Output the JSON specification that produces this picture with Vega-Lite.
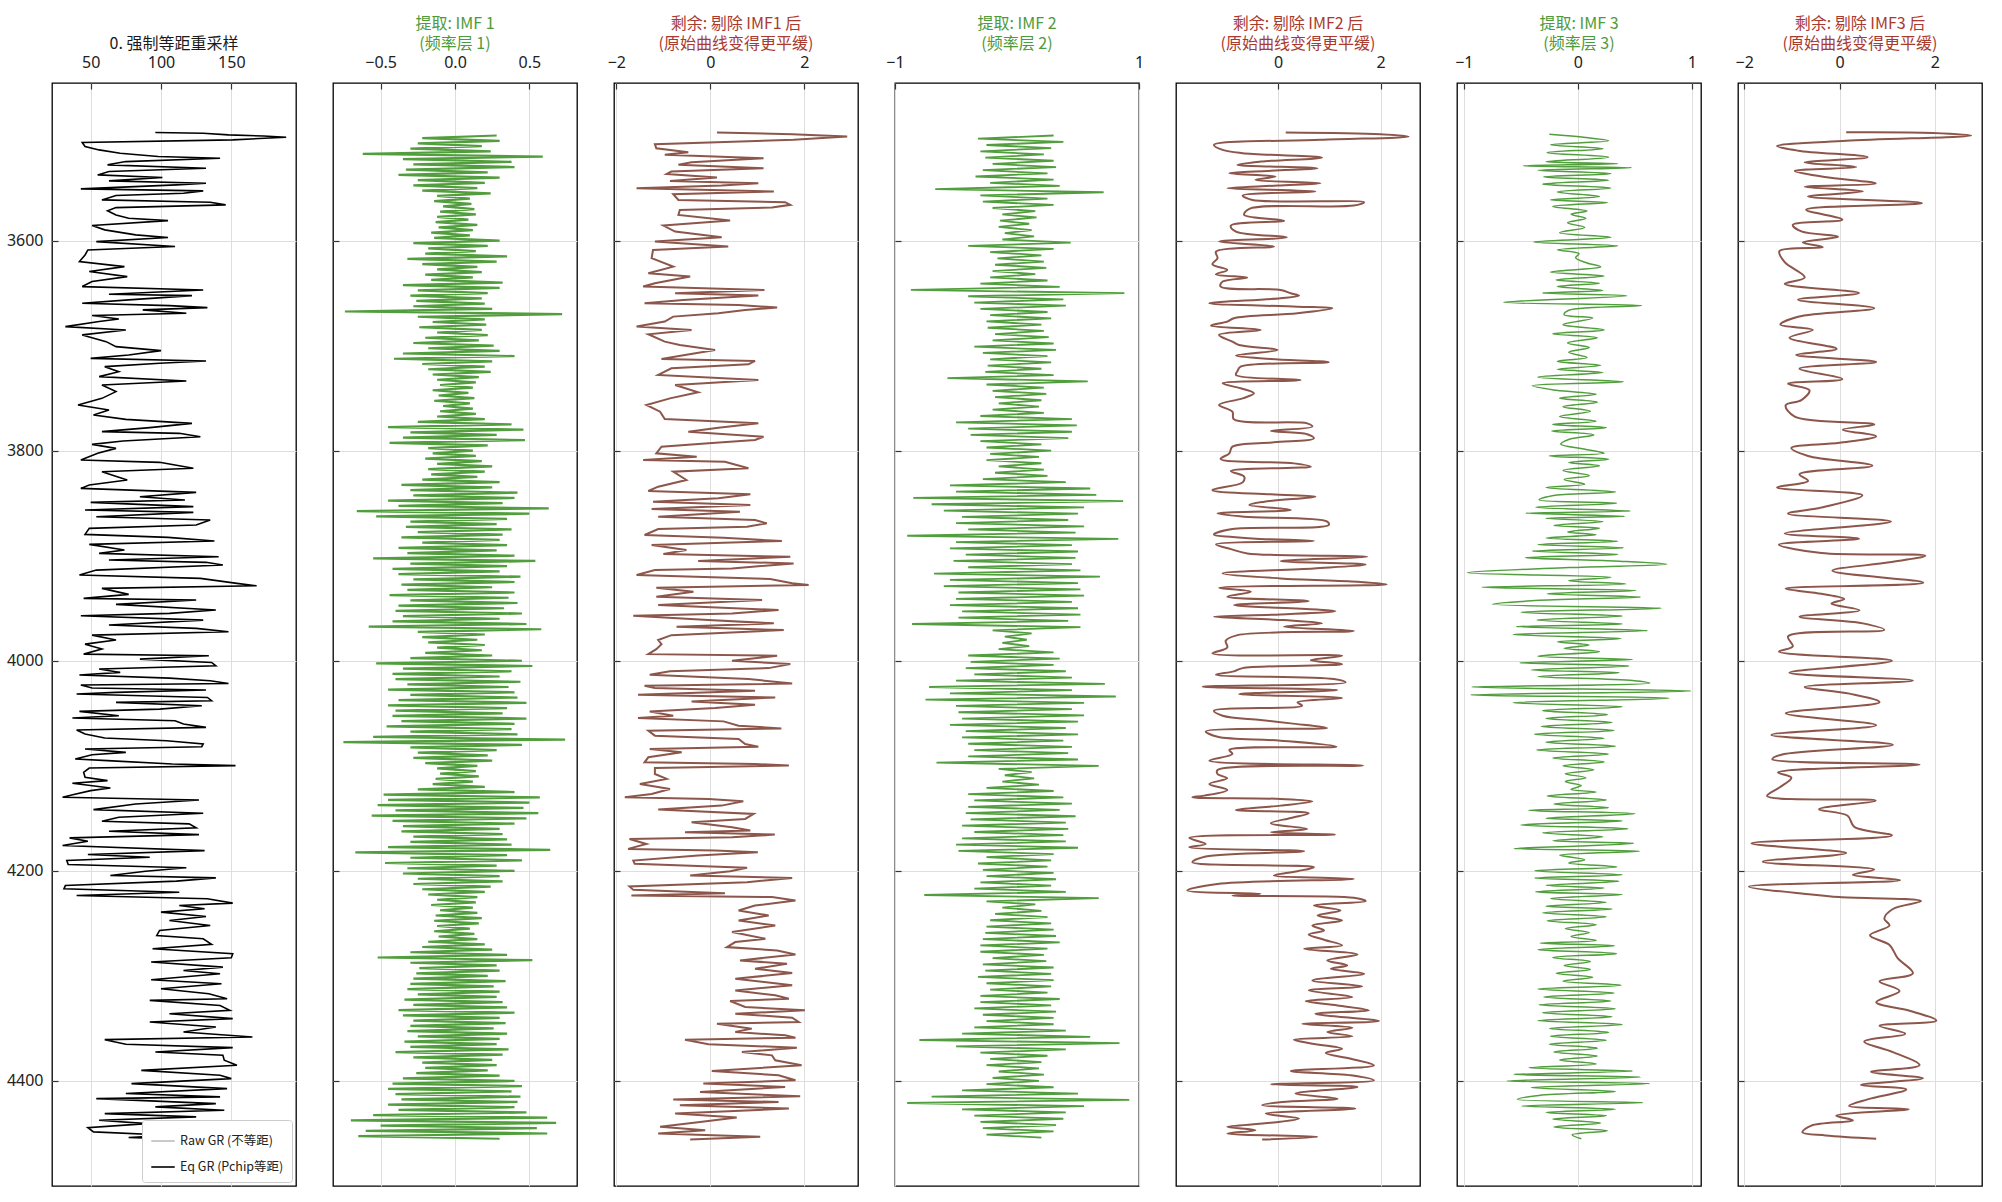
{
"$schema": "https://vega.github.io/schema/vega-lite/v6.json",
"background": "white",
"padding": {"left": 5, "top": 15, "right": 5, "bottom": 2},
"spacing": 37,
"bounds": "flush",
"resolve": {"scale": {"color": "independent"}, "legend": {"color": "independent"}},
"config": {
  "font": "Noto Sans",
  "view": {"stroke": "black", "strokeWidth": 1.3},
  "axis": {"labelFont": "Noto Sans", "labelFontSize": 16, "labelColor": "#222", "tickColor": "#333", "tickSize": -6, "tickWidth": 1.2, "domain": false, "gridColor": "#dedede", "gridWidth": 1, "title": null, "labelPadding": 19, "labelFlush": false, "labelOverlap": false, "labelBound": false},
  "title": {"font": "Noto Sans CJK SC", "fontSize": 16, "fontWeight": "normal", "lineHeight": 20, "offset": 2, "anchor": "middle"},
  "legend": {"labelFont": "Noto Sans CJK SC", "labelFontSize": 12.5, "labelColor": "#222", "fillColor": "white", "strokeColor": "#cccccc", "padding": 8, "cornerRadius": 3, "rowPadding": 6, "symbolType": "stroke", "symbolSize": 550, "symbolStrokeWidth": 1.6, "offset": 4}
},
"datasets": {
"gr": [
{"d":3497.1,"v":96},{"d":3497.8,"v":130},{"d":3499.4,"v":148},{"d":3500.5,"v":173},{"d":3501.6,"v":189},{"d":3504.1,"v":151},{"d":3506.7,"v":44},{"d":3510.5,"v":46},{"d":3513.7,"v":56},{"d":3516.8,"v":71},{"d":3520.0,"v":98},{"d":3521.6,"v":142},{"d":3524.8,"v":75},{"d":3527.9,"v":62},{"d":3531.1,"v":132},{"d":3534.3,"v":63},{"d":3537.5,"v":55},{"d":3540.0,"v":101},{"d":3543.2,"v":63},{"d":3545.4,"v":132},{"d":3547.0,"v":111},{"d":3550.8,"v":43},{"d":3552.7,"v":130},{"d":3554.9,"v":116},{"d":3557.1,"v":68},{"d":3561.3,"v":58},{"d":3563.5,"v":135},{"d":3566.0,"v":146},{"d":3568.6,"v":68},{"d":3571.7,"v":62},{"d":3575.6,"v":68},{"d":3578.7,"v":77},{"d":3581.0,"v":105},{"d":3585.7,"v":51},{"d":3589.8,"v":60},{"d":3594.6,"v":82},{"d":3597.1,"v":105},{"d":3601.0,"v":54},{"d":3605.7,"v":110},{"d":3608.9,"v":48},{"d":3613.7,"v":46},{"d":3620.0,"v":42},{"d":3624.8,"v":74},{"d":3629.5,"v":49},{"d":3634.3,"v":76},{"d":3639.0,"v":51},{"d":3643.8,"v":44},{"d":3647.0,"v":130},{"d":3651.1,"v":63},{"d":3652.4,"v":122},{"d":3656.5,"v":77},{"d":3659.7,"v":44},{"d":3661.9,"v":106},{"d":3663.8,"v":133},{"d":3666.0,"v":87},{"d":3669.2,"v":118},{"d":3671.4,"v":51},{"d":3674.6,"v":70},{"d":3677.1,"v":56},{"d":3681.9,"v":32},{"d":3685.1,"v":75},{"d":3689.8,"v":44},{"d":3696.2,"v":61},{"d":3701.0,"v":68},{"d":3704.8,"v":100},{"d":3708.9,"v":77},{"d":3712.1,"v":50},{"d":3714.6,"v":132},{"d":3716.8,"v":99},{"d":3720.0,"v":60},{"d":3724.8,"v":70},{"d":3729.5,"v":56},{"d":3733.7,"v":118},{"d":3737.5,"v":58},{"d":3743.8,"v":68},{"d":3750.2,"v":58},{"d":3756.5,"v":41},{"d":3761.3,"v":63},{"d":3766.0,"v":52},{"d":3770.2,"v":75},{"d":3774.0,"v":122},{"d":3778.1,"v":92},{"d":3781.9,"v":58},{"d":3783.5,"v":113},{"d":3786.7,"v":128},{"d":3790.8,"v":73},{"d":3794.0,"v":51},{"d":3797.8,"v":68},{"d":3802.5,"v":55},{"d":3808.9,"v":43},{"d":3811.1,"v":99},{"d":3816.8,"v":123},{"d":3820.0,"v":58},{"d":3827.9,"v":76},{"d":3832.7,"v":49},{"d":3835.9,"v":43},{"d":3839.7,"v":125},{"d":3843.8,"v":85},{"d":3847.0,"v":117},{"d":3849.2,"v":50},{"d":3853.3,"v":123},{"d":3856.5,"v":46},{"d":3858.7,"v":123},{"d":3862.9,"v":54},{"d":3866.0,"v":135},{"d":3870.8,"v":125},{"d":3874.0,"v":49},{"d":3879.7,"v":46},{"d":3882.5,"v":105},{"d":3886.0,"v":138},{"d":3889.2,"v":49},{"d":3894.6,"v":74},{"d":3897.8,"v":56},{"d":3901.0,"v":141},{"d":3904.1,"v":63},{"d":3906.3,"v":132},{"d":3908.9,"v":144},{"d":3913.7,"v":54},{"d":3918.4,"v":42},{"d":3921.6,"v":128},{"d":3926.3,"v":154},{"d":3928.6,"v":168},{"d":3931.1,"v":58},{"d":3936.8,"v":77},{"d":3940.6,"v":45},{"d":3942.2,"v":125},{"d":3946.3,"v":68},{"d":3951.7,"v":139},{"d":3954.9,"v":106},{"d":3957.1,"v":43},{"d":3961.3,"v":130},{"d":3966.0,"v":63},{"d":3969.2,"v":125},{"d":3972.4,"v":148},{"d":3975.6,"v":51},{"d":3980.3,"v":68},
{"d":3984.2,"v":46},{"d":3988.9,"v":58},{"d":3993.7,"v":45},{"d":3995.2,"v":134},{"d":3998.4,"v":85},{"d":4001.6,"v":136},{"d":4004.8,"v":139},{"d":4007.9,"v":56},{"d":4011.1,"v":71},{"d":4013.6,"v":42},{"d":4016.5,"v":106},{"d":4019.0,"v":135},{"d":4021.6,"v":148},{"d":4023.1,"v":43},{"d":4026.0,"v":51},{"d":4027.9,"v":132},{"d":4030.1,"v":68},{"d":4031.7,"v":40},{"d":4034.9,"v":133},{"d":4038.0,"v":136},{"d":4039.6,"v":68},{"d":4042.8,"v":129},{"d":4046.0,"v":99},{"d":4048.2,"v":42},{"d":4052.3,"v":70},{"d":4054.5,"v":37},{"d":4057.1,"v":110},{"d":4060.2,"v":116},{"d":4063.4,"v":132},{"d":4065.9,"v":40},{"d":4069.7,"v":46},{"d":4073.5,"v":60},{"d":4076.1,"v":104},{"d":4079.2,"v":130},{"d":4081.8,"v":129},{"d":4084.0,"v":46},{"d":4087.2,"v":75},{"d":4089.4,"v":51},{"d":4093.5,"v":39},{"d":4095.1,"v":62},{"d":4098.3,"v":108},{"d":4099.8,"v":153},{"d":4102.1,"v":49},{"d":4106.2,"v":45},{"d":4110.9,"v":46},{"d":4114.1,"v":62},{"d":4116.6,"v":37},{"d":4121.1,"v":64},{"d":4123.6,"v":50},{"d":4127.4,"v":38},{"d":4130.0,"v":30},{"d":4132.5,"v":127},{"d":4136.3,"v":82},{"d":4141.7,"v":52},{"d":4145.2,"v":130},{"d":4149.0,"v":70},{"d":4152.8,"v":58},{"d":4155.3,"v":120},{"d":4159.1,"v":125},{"d":4162.3,"v":63},{"d":4165.5,"v":127},{"d":4168.6,"v":35},{"d":4171.8,"v":48},{"d":4175.9,"v":30},{"d":4180.7,"v":131},{"d":4184.5,"v":48},{"d":4187.0,"v":92},{"d":4190.2,"v":33},{"d":4194.0,"v":34},{"d":4197.1,"v":118},{"d":4200.3,"v":89},{"d":4204.4,"v":64},{"d":4206.7,"v":139},{"d":4209.8,"v":111},{"d":4214.0,"v":32},{"d":4217.1,"v":31},{"d":4220.3,"v":113},{"d":4223.5,"v":40},{"d":4226.6,"v":133},{"d":4230.7,"v":151},{"d":4233.0,"v":113},{"d":4236.1,"v":131},{"d":4239.3,"v":100},{"d":4243.4,"v":132},{"d":4247.2,"v":106},{"d":4252.0,"v":135},{"d":4256.7,"v":99},{"d":4261.5,"v":97},{"d":4264.7,"v":130},{"d":4270.0,"v":136},{"d":4274.2,"v":94},{"d":4278.9,"v":151},{"d":4282.7,"v":150},{"d":4286.8,"v":93},{"d":4291.6,"v":144},{"d":4294.8,"v":116},{"d":4297.9,"v":142},{"d":4303.6,"v":93},{"d":4307.4,"v":143},{"d":4312.2,"v":100},{"d":4317.0,"v":134},{"d":4321.7,"v":147},{"d":4323.3,"v":92},{"d":4328.1,"v":142},{"d":4332.8,"v":149},{"d":4336.0,"v":106},{"d":4340.7,"v":151},{"d":4343.9,"v":92},{"d":4348.7,"v":139},{"d":4353.4,"v":116},{"d":4358.2,"v":165},{"d":4360.7,"v":60},{"d":4365.1,"v":75},{"d":4368.3,"v":151},{"d":4372.4,"v":96},{"d":4375.6,"v":144},{"d":4380.3,"v":145},{"d":4385.1,"v":154},{"d":4389.9,"v":86},{"d":4394.6,"v":142},{"d":4397.8,"v":150},{"d":4402.5,"v":79},{"d":4407.3,"v":147},{"d":4412.0,"v":75},{"d":4415.2,"v":142},{"d":4416.8,"v":54},{"d":4421.6,"v":139},{"d":4424.7,"v":96},{"d":4427.9,"v":145},{"d":4431.1,"v":60},{"d":4434.2,"v":125},{"d":4437.4,"v":56},{"d":4440.6,"v":90},{"d":4444.4,"v":48},{"d":4448.5,"v":52},{"d":4451.7,"v":106},{"d":4453.9,"v":77},{"d":4456.4,"v":137}
],
"imf1": [
{"d":3500,"v":0.28},{"d":3502.5,"v":-0.22},{"d":3505,"v":0.30},{"d":3507.5,"v":-0.25},{"d":3510,"v":0.18},{"d":3512.5,"v":-0.30},{"d":3515,"v":0.24},{"d":3517.5,"v":-0.62},{"d":3520,"v":0.59},{"d":3522.5,"v":-0.35},{"d":3525,"v":0.38},{"d":3527.5,"v":-0.28},{"d":3530,"v":0.40},{"d":3532.5,"v":-0.33},{"d":3535,"v":0.22},{"d":3537.5,"v":-0.38},{"d":3540,"v":0.30},{"d":3542.5,"v":-0.25},{"d":3545,"v":0.20},{"d":3547.5,"v":-0.28},{"d":3550,"v":0.15},{"d":3552.5,"v":-0.22},{"d":3555,"v":0.24},{"d":3557.5,"v":-0.12},{"d":3560,"v":0.10},{"d":3562.5,"v":-0.14},{"d":3565,"v":0.11},{"d":3567.5,"v":-0.08},{"d":3570,"v":0.13},{"d":3572.5,"v":-0.10},{"d":3575,"v":0.14},{"d":3577.5,"v":-0.12},{"d":3580,"v":0.09},{"d":3582.5,"v":-0.13},{"d":3585,"v":0.15},{"d":3587.5,"v":-0.11},{"d":3590,"v":0.12},{"d":3592.5,"v":-0.16},{"d":3595,"v":0.10},{"d":3597.5,"v":-0.14},
{"d":3600,"v":0.30},{"d":3602.5,"v":-0.28},{"d":3605,"v":0.22},{"d":3607.5,"v":-0.18},{"d":3610,"v":0.14},{"d":3612.5,"v":-0.20},{"d":3615,"v":0.35},{"d":3617.5,"v":-0.32},{"d":3620,"v":0.28},{"d":3622.5,"v":-0.22},{"d":3625,"v":0.15},{"d":3627.5,"v":-0.12},{"d":3630,"v":0.18},{"d":3632.5,"v":-0.20},{"d":3635,"v":0.12},{"d":3637.5,"v":-0.16},{"d":3640,"v":0.32},{"d":3642.5,"v":-0.35},{"d":3645,"v":0.30},{"d":3647.5,"v":-0.25},{"d":3650,"v":0.22},{"d":3652.5,"v":-0.30},{"d":3655,"v":0.18},{"d":3657.5,"v":-0.26},{"d":3660,"v":0.20},{"d":3662.5,"v":-0.28},{"d":3665,"v":0.25},{"d":3667.5,"v":-0.74},{"d":3670,"v":0.72},{"d":3672.5,"v":-0.25},{"d":3675,"v":0.20},{"d":3677.5,"v":-0.15},{"d":3680,"v":0.21},{"d":3682.5,"v":-0.24},{"d":3685,"v":0.18},{"d":3687.5,"v":-0.12},{"d":3690,"v":0.22},{"d":3692.5,"v":-0.20},{"d":3695,"v":0.16},{"d":3697.5,"v":-0.28},
{"d":3700,"v":0.26},{"d":3702.5,"v":-0.18},{"d":3705,"v":0.30},{"d":3707.5,"v":-0.35},{"d":3710,"v":0.40},{"d":3712.5,"v":-0.41},{"d":3715,"v":0.25},{"d":3717.5,"v":-0.22},{"d":3720,"v":0.20},{"d":3722.5,"v":-0.18},{"d":3725,"v":0.24},{"d":3727.5,"v":-0.15},{"d":3730,"v":0.16},{"d":3732.5,"v":-0.12},{"d":3735,"v":0.14},{"d":3737.5,"v":-0.10},{"d":3740,"v":0.12},{"d":3742.5,"v":-0.15},{"d":3745,"v":0.09},{"d":3747.5,"v":-0.11},{"d":3750,"v":0.13},{"d":3752.5,"v":-0.14},{"d":3755,"v":0.10},{"d":3757.5,"v":-0.08},{"d":3760,"v":0.12},{"d":3762.5,"v":-0.10},{"d":3765,"v":0.14},{"d":3767.5,"v":-0.12},{"d":3770,"v":0.20},{"d":3772.5,"v":-0.25},{"d":3775,"v":0.38},{"d":3777.5,"v":-0.45},{"d":3780,"v":0.46},{"d":3782.5,"v":-0.30},{"d":3785,"v":0.28},{"d":3787.5,"v":-0.35},{"d":3790,"v":0.47},{"d":3792.5,"v":-0.44},{"d":3795,"v":0.22},{"d":3797.5,"v":-0.18},
{"d":3800,"v":0.12},{"d":3802.5,"v":-0.15},{"d":3805,"v":0.14},{"d":3807.5,"v":-0.20},{"d":3810,"v":0.18},{"d":3812.5,"v":-0.12},{"d":3815,"v":0.25},{"d":3817.5,"v":-0.18},{"d":3820,"v":0.20},{"d":3822.5,"v":-0.16},{"d":3825,"v":0.15},{"d":3827.5,"v":-0.22},{"d":3830,"v":0.30},{"d":3832.5,"v":-0.36},{"d":3835,"v":0.25},{"d":3837.5,"v":-0.30},{"d":3840,"v":0.42},{"d":3842.5,"v":-0.28},{"d":3845,"v":0.40},{"d":3847.5,"v":-0.45},{"d":3850,"v":0.32},{"d":3852.5,"v":-0.38},{"d":3855,"v":0.63},{"d":3857.5,"v":-0.66},{"d":3860,"v":0.50},{"d":3862.5,"v":-0.53},{"d":3865,"v":0.35},{"d":3867.5,"v":-0.30},{"d":3870,"v":0.28},{"d":3872.5,"v":-0.33},{"d":3875,"v":0.38},{"d":3877.5,"v":-0.25},{"d":3880,"v":0.32},{"d":3882.5,"v":-0.36},{"d":3885,"v":0.30},{"d":3887.5,"v":-0.22},{"d":3890,"v":0.35},{"d":3892.5,"v":-0.38},{"d":3895,"v":0.28},{"d":3897.5,"v":-0.32},
{"d":3900,"v":0.40},{"d":3902.5,"v":-0.55},{"d":3905,"v":0.54},{"d":3907.5,"v":-0.30},{"d":3910,"v":0.35},{"d":3912.5,"v":-0.42},{"d":3915,"v":0.30},{"d":3917.5,"v":-0.38},{"d":3920,"v":0.44},{"d":3922.5,"v":-0.28},{"d":3925,"v":0.40},{"d":3927.5,"v":-0.36},{"d":3930,"v":0.25},{"d":3932.5,"v":-0.32},{"d":3935,"v":0.40},{"d":3937.5,"v":-0.44},{"d":3940,"v":0.36},{"d":3942.5,"v":-0.30},{"d":3945,"v":0.42},{"d":3947.5,"v":-0.38},{"d":3950,"v":0.33},{"d":3952.5,"v":-0.40},{"d":3955,"v":0.45},{"d":3957.5,"v":-0.35},{"d":3960,"v":0.30},{"d":3962.5,"v":-0.42},{"d":3965,"v":0.48},{"d":3967.5,"v":-0.58},{"d":3970,"v":0.58},{"d":3972.5,"v":-0.25},{"d":3975,"v":0.20},{"d":3977.5,"v":-0.22},{"d":3980,"v":0.15},{"d":3982.5,"v":-0.18},{"d":3985,"v":0.20},{"d":3987.5,"v":-0.12},{"d":3990,"v":0.18},{"d":3992.5,"v":-0.20},{"d":3995,"v":0.25},{"d":3997.5,"v":-0.30},
{"d":4000,"v":0.45},{"d":4002.5,"v":-0.53},{"d":4005,"v":0.52},{"d":4007.5,"v":-0.35},{"d":4010,"v":0.38},{"d":4012.5,"v":-0.42},{"d":4015,"v":0.30},{"d":4017.5,"v":-0.40},{"d":4020,"v":0.44},{"d":4022.5,"v":-0.32},{"d":4025,"v":0.36},{"d":4027.5,"v":-0.45},{"d":4030,"v":0.40},{"d":4032.5,"v":-0.30},{"d":4035,"v":0.42},{"d":4037.5,"v":-0.38},{"d":4040,"v":0.48},{"d":4042.5,"v":-0.45},{"d":4045,"v":0.35},{"d":4047.5,"v":-0.40},{"d":4050,"v":0.32},{"d":4052.5,"v":-0.42},{"d":4055,"v":0.48},{"d":4057.5,"v":-0.36},{"d":4060,"v":0.40},{"d":4062.5,"v":-0.46},{"d":4065,"v":0.38},{"d":4067.5,"v":-0.30},{"d":4070,"v":0.42},{"d":4072.5,"v":-0.55},{"d":4075,"v":0.74},{"d":4077.5,"v":-0.75},{"d":4080,"v":0.45},{"d":4082.5,"v":-0.30},{"d":4085,"v":0.28},{"d":4087.5,"v":-0.25},{"d":4090,"v":0.22},{"d":4092.5,"v":-0.28},{"d":4095,"v":0.25},{"d":4097.5,"v":-0.20},
{"d":4100,"v":0.15},{"d":4102.5,"v":-0.12},{"d":4105,"v":0.14},{"d":4107.5,"v":-0.10},{"d":4110,"v":0.16},{"d":4112.5,"v":-0.13},{"d":4115,"v":0.12},{"d":4117.5,"v":-0.15},{"d":4120,"v":0.20},{"d":4122.5,"v":-0.25},{"d":4125,"v":0.40},{"d":4127.5,"v":-0.48},{"d":4130,"v":0.57},{"d":4132.5,"v":-0.45},{"d":4135,"v":0.50},{"d":4137.5,"v":-0.52},{"d":4140,"v":0.46},{"d":4142.5,"v":-0.40},{"d":4145,"v":0.56},{"d":4147.5,"v":-0.56},{"d":4150,"v":0.48},{"d":4152.5,"v":-0.42},{"d":4155,"v":0.40},{"d":4157.5,"v":-0.35},{"d":4160,"v":0.30},{"d":4162.5,"v":-0.36},{"d":4165,"v":0.32},{"d":4167.5,"v":-0.28},{"d":4170,"v":0.35},{"d":4172.5,"v":-0.30},{"d":4175,"v":0.38},{"d":4177.5,"v":-0.45},{"d":4180,"v":0.64},{"d":4182.5,"v":-0.67},{"d":4185,"v":0.35},{"d":4187.5,"v":-0.30},{"d":4190,"v":0.45},{"d":4192.5,"v":-0.47},{"d":4195,"v":0.28},{"d":4197.5,"v":-0.32},
{"d":4200,"v":0.40},{"d":4202.5,"v":-0.35},{"d":4205,"v":0.30},{"d":4207.5,"v":-0.25},{"d":4210,"v":0.32},{"d":4212.5,"v":-0.28},{"d":4215,"v":0.24},{"d":4217.5,"v":-0.22},{"d":4220,"v":0.20},{"d":4222.5,"v":-0.18},{"d":4225,"v":0.15},{"d":4227.5,"v":-0.12},{"d":4230,"v":0.14},{"d":4232.5,"v":-0.16},{"d":4235,"v":0.12},{"d":4237.5,"v":-0.10},{"d":4240,"v":0.15},{"d":4242.5,"v":-0.13},{"d":4245,"v":0.18},{"d":4247.5,"v":-0.14},{"d":4250,"v":0.16},{"d":4252.5,"v":-0.12},{"d":4255,"v":0.10},{"d":4257.5,"v":-0.14},{"d":4260,"v":0.13},{"d":4262.5,"v":-0.11},{"d":4265,"v":0.15},{"d":4267.5,"v":-0.18},{"d":4270,"v":0.20},{"d":4272.5,"v":-0.22},{"d":4275,"v":0.25},{"d":4277.5,"v":-0.30},{"d":4280,"v":0.35},{"d":4282.5,"v":-0.52},{"d":4285,"v":0.52},{"d":4287.5,"v":-0.30},{"d":4290,"v":0.28},{"d":4292.5,"v":-0.24},{"d":4295,"v":0.30},{"d":4297.5,"v":-0.26},
{"d":4300,"v":0.22},{"d":4302.5,"v":-0.28},{"d":4305,"v":0.34},{"d":4307.5,"v":-0.30},{"d":4310,"v":0.26},{"d":4312.5,"v":-0.32},{"d":4315,"v":0.30},{"d":4317.5,"v":-0.25},{"d":4320,"v":0.28},{"d":4322.5,"v":-0.34},{"d":4325,"v":0.32},{"d":4327.5,"v":-0.28},{"d":4330,"v":0.35},{"d":4332.5,"v":-0.38},{"d":4335,"v":0.40},{"d":4337.5,"v":-0.35},{"d":4340,"v":0.30},{"d":4342.5,"v":-0.28},{"d":4345,"v":0.34},{"d":4347.5,"v":-0.30},{"d":4350,"v":0.26},{"d":4352.5,"v":-0.32},{"d":4355,"v":0.35},{"d":4357.5,"v":-0.25},{"d":4360,"v":0.30},{"d":4362.5,"v":-0.34},{"d":4365,"v":0.28},{"d":4367.5,"v":-0.30},{"d":4370,"v":0.36},{"d":4372.5,"v":-0.40},{"d":4375,"v":0.32},{"d":4377.5,"v":-0.28},{"d":4380,"v":0.25},{"d":4382.5,"v":-0.22},{"d":4385,"v":0.28},{"d":4387.5,"v":-0.20},{"d":4390,"v":0.22},{"d":4392.5,"v":-0.26},{"d":4395,"v":0.30},{"d":4397.5,"v":-0.35},
{"d":4400,"v":0.40},{"d":4402.5,"v":-0.42},{"d":4405,"v":0.45},{"d":4407.5,"v":-0.45},{"d":4410,"v":0.38},{"d":4412.5,"v":-0.40},{"d":4415,"v":0.44},{"d":4417.5,"v":-0.36},{"d":4420,"v":0.42},{"d":4422.5,"v":-0.45},{"d":4425,"v":0.40},{"d":4427.5,"v":-0.38},{"d":4430,"v":0.48},{"d":4432.5,"v":-0.55},{"d":4435,"v":0.62},{"d":4437.5,"v":-0.70},{"d":4440,"v":0.68},{"d":4442.5,"v":-0.50},{"d":4445,"v":0.55},{"d":4447.5,"v":-0.60},{"d":4450,"v":0.62},{"d":4452.5,"v":-0.65},{"d":4455,"v":0.30}
],
"r1": [
{"d":3497.1,"v":0.14},{"d":3498.7,"v":1.74},{"d":3501.0,"v":2.91},{"d":3504.1,"v":1.77},{"d":3508.3,"v":-1.18},{"d":3512.1,"v":-1.15},{"d":3515.9,"v":-0.47},{"d":3518.4,"v":-0.97},{"d":3521.6,"v":1.13},{"d":3525.4,"v":-0.40},{"d":3527.9,"v":-0.68},{"d":3531.1,"v":1.13},{"d":3534.3,"v":-0.83},{"d":3536.7,"v":-0.93},{"d":3540.0,"v":0.14},{"d":3543.2,"v":-0.86},{"d":3545.4,"v":1.02},{"d":3547.6,"v":0.24},{"d":3550.2,"v":-1.57},{"d":3553.3,"v":1.35},{"d":3555.9,"v":-0.79},{"d":3561.3,"v":-0.68},{"d":3563.5,"v":1.59},{"d":3566.0,"v":1.70},{"d":3568.6,"v":1.31},{"d":3570.8,"v":-0.65},{"d":3575.6,"v":-0.68},{"d":3581.0,"v":0.42},{"d":3585.7,"v":-1.0},{"d":3591.4,"v":-0.75},{"d":3596.8,"v":0.24},{"d":3601.0,"v":-1.18},{"d":3605.7,"v":0.38},{"d":3608.9,"v":-1.22},{"d":3616.8,"v":-1.25},{"d":3624.8,"v":-0.79},{"d":3631.1,"v":-1.32},{"d":3634.3,"v":-0.43},{"d":3640.6,"v":-1.18},{"d":3643.8,"v":-1.43},{"d":3647.0,"v":1.15},{"d":3650.2,"v":-0.75},{"d":3652.4,"v":1.02},{"d":3656.5,"v":-0.58},{"d":3659.7,"v":-1.40},{"d":3661.3,"v":0.60},{"d":3663.8,"v":1.42},{"d":3666.0,"v":0.74},{"d":3669.2,"v":0.17},{"d":3672.4,"v":-0.79},{"d":3677.1,"v":-0.97},{"d":3681.9,"v":-1.57},{"d":3685.1,"v":-0.40},{"d":3689.2,"v":-1.32},{"d":3696.2,"v":-0.97},{"d":3699.4,"v":-0.65},{"d":3704.1,"v":0.10},{"d":3708.9,"v":-0.54},{"d":3712.7,"v":-1.04},{"d":3714.6,"v":0.95},{"d":3717.8,"v":0.81},{"d":3721.6,"v":-0.83},{"d":3727.9,"v":-1.11},{"d":3732.7,"v":1.02},{"d":3737.5,"v":-0.75},{"d":3744.4,"v":-0.26},{"d":3750.2,"v":-0.86},{"d":3756.5,"v":-1.36},{"d":3762.9,"v":-1.07},{"d":3769.8,"v":-0.97},{"d":3774.0,"v":1.02},{"d":3778.1,"v":0.17},{"d":3781.9,"v":-0.47},{"d":3786.7,"v":1.13},{"d":3789.8,"v":0.95},{"d":3793.0,"v":-0.04},{"d":3796.2,"v":-1.04},{"d":3802.5,"v":-1.15},{"d":3805.7,"v":-0.29},{"d":3808.9,"v":-1.43},{"d":3810.5,"v":0.31},{"d":3816.8,"v":0.81},{"d":3820.0,"v":-0.79},{"d":3827.9,"v":-0.51},{"d":3834.3,"v":-1.11},{"d":3838.4,"v":-1.32},{"d":3841.6,"v":0.85},{"d":3845.4,"v":0.17},{"d":3848.6,"v":-1.22},{"d":3851.7,"v":0.85},{"d":3855.6,"v":-1.25},{"d":3858.1,"v":0.63},{"d":3862.9,"v":-1.11},{"d":3866.0,"v":0.95},{"d":3869.2,"v":1.20},{"d":3872.4,"v":0.78},{"d":3874.6,"v":-1.11},{"d":3880.3,"v":-1.40},{"d":3882.9,"v":0.28},{"d":3886.0,"v":1.52},{"d":3889.8,"v":-1.25},{"d":3894.6,"v":-0.51},{"d":3898.4,"v":-1.0},{"d":3901.0,"v":1.70},{"d":3905.1,"v":-0.26},{"d":3907.3,"v":1.77},{"d":3912.1,"v":0.46},{"d":3913.7,"v":-1.18},{"d":3918.4,"v":-1.57},{"d":3922.2,"v":1.27},{"d":3926.3,"v":1.74},{"d":3927.9,"v":2.09},{"d":3930.5,"v":-1.15},{"d":3934.3,"v":-0.36},{"d":3939.0,"v":-1.15},{"d":3942.2,"v":1.10},{"d":3946.9,"v":-1.11},{"d":3951.7,"v":1.45},{"d":3954.9,"v":0.46},{"d":3957.1,"v":-1.64},{"d":3961.3,"v":-0.04},{"d":3964.4,"v":1.35},{"d":3967.6,"v":-0.72},{"d":3970.8,"v":1.56},{"d":3975.6,"v":-0.83},{"d":3980.3,"v":-1.11},
{"d":3984.2,"v":-1.04},{"d":3988.9,"v":-1.15},{"d":3993.7,"v":-1.32},{"d":3995.2,"v":1.42},{"d":4000.0,"v":0.46},{"d":4003.2,"v":1.70},{"d":4007.0,"v":1.24},{"d":4010.1,"v":-0.86},{"d":4013.3,"v":-1.29},{"d":4017.4,"v":0.81},{"d":4021.6,"v":1.74},{"d":4023.8,"v":-1.40},{"d":4026.0,"v":-1.18},{"d":4028.5,"v":0.95},{"d":4032.3,"v":-1.54},{"d":4034.9,"v":1.38},{"d":4038.7,"v":-0.40},{"d":4041.8,"v":0.95},{"d":4045.0,"v":0.10},{"d":4048.2,"v":-1.29},{"d":4052.3,"v":-0.79},{"d":4054.5,"v":-1.54},{"d":4057.7,"v":0.28},{"d":4061.8,"v":0.60},{"d":4064.4,"v":1.51},{"d":4066.6,"v":-1.32},{"d":4071.3,"v":-1.18},{"d":4074.5,"v":0.60},{"d":4079.2,"v":0.74},{"d":4081.8,"v":1.02},{"d":4084.0,"v":-1.29},{"d":4087.2,"v":-0.61},{"d":4091.9,"v":-1.32},{"d":4096.7,"v":-1.40},{"d":4098.3,"v":0.95},{"d":4099.8,"v":1.67},{"d":4102.1,"v":-1.18},{"d":4107.8,"v":-1.18},{"d":4112.5,"v":-0.93},{"d":4117.3,"v":-1.50},{"d":4122.0,"v":-0.86},{"d":4126.8,"v":-1.25},{"d":4130.0,"v":-1.82},{"d":4131.5,"v":-0.04},{"d":4133.8,"v":0.70},{"d":4137.9,"v":0.24},{"d":4141.7,"v":-1.11},{"d":4145.8,"v":0.92},{"d":4150.6,"v":0.74},{"d":4153.7,"v":-0.40},{"d":4158.5,"v":0.46},{"d":4161.6,"v":0.85},{"d":4163.2,"v":-0.54},{"d":4165.5,"v":1.37},{"d":4168.0,"v":0.46},{"d":4169.6,"v":-1.72},{"d":4174.4,"v":-1.36},{"d":4179.1,"v":-1.75},{"d":4180.7,"v":0.10},{"d":4182.3,"v":1.01},{"d":4185.4,"v":-0.26},{"d":4190.2,"v":-1.64},{"d":4193.3,"v":-1.61},{"d":4197.1,"v":0.78},{"d":4200.3,"v":0.42},{"d":4204.4,"v":-0.43},{"d":4206.7,"v":1.74},{"d":4210.8,"v":0.78},{"d":4214.9,"v":-1.72},{"d":4218.1,"v":-1.64},{"d":4221.2,"v":0.31},{"d":4223.5,"v":-1.68},{"d":4225.0,"v":1.31},{"d":4228.2,"v":1.81},{"d":4233.0,"v":0.95},{"d":4237.7,"v":0.60},{"d":4242.5,"v":1.24},{"d":4247.2,"v":0.60},{"d":4252.0,"v":1.38},{"d":4258.3,"v":0.46},{"d":4264.7,"v":1.17},{"d":4267.8,"v":0.53},{"d":4272.6,"v":0.35},{"d":4275.8,"v":1.42},{"d":4279.6,"v":1.81},{"d":4285.3,"v":0.63},{"d":4288.4,"v":1.63},{"d":4293.2,"v":0.95},{"d":4297.3,"v":1.74},{"d":4302.7,"v":0.53},{"d":4309.0,"v":1.74},{"d":4313.8,"v":0.53},{"d":4318.5,"v":1.38},{"d":4321.7,"v":1.67},{"d":4323.9,"v":0.42},{"d":4329.6,"v":0.74},{"d":4332.8,"v":2.01},{"d":4336.0,"v":0.53},{"d":4339.8,"v":1.74},{"d":4343.9,"v":1.88},{"d":4345.5,"v":0.14},{"d":4350.2,"v":0.88},{"d":4353.4,"v":0.53},{"d":4356.6,"v":1.59},{"d":4358.8,"v":1.81},{"d":4360.7,"v":-0.54},{"d":4365.1,"v":-0.04},{"d":4368.3,"v":1.84},{"d":4372.4,"v":0.67},{"d":4375.6,"v":1.31},{"d":4380.3,"v":1.38},{"d":4385.1,"v":1.94},{"d":4390.5,"v":0.03},{"d":4394.6,"v":1.45},{"d":4399.4,"v":1.81},{"d":4402.5,"v":-0.15},{"d":4405.7,"v":1.59},{"d":4410.5,"v":-0.22},{"d":4414.6,"v":1.91},{"d":4417.7,"v":-0.79},{"d":4420.0,"v":1.45},{"d":4423.1,"v":-0.65},{"d":4426.3,"v":1.67},{"d":4431.1,"v":-0.75},{"d":4434.9,"v":0.56},{"d":4439.0,"v":-0.22},{"d":4443.7,"v":-1.07},{"d":4446.9,"v":-0.11},{"d":4450.1,"v":-1.11},{"d":4453.2,"v":1.06},{"d":4455.8,"v":-0.43}
],
"imf2": [
{"d":3500,"v":0.30},{"d":3503,"v":-0.32},{"d":3506,"v":0.38},{"d":3509,"v":-0.25},{"d":3512,"v":0.28},{"d":3515,"v":-0.30},{"d":3518,"v":0.22},{"d":3521,"v":-0.26},{"d":3524,"v":0.30},{"d":3527,"v":-0.20},{"d":3530,"v":0.32},{"d":3533,"v":-0.28},{"d":3536,"v":0.25},{"d":3539,"v":-0.34},{"d":3542,"v":0.30},{"d":3545,"v":-0.22},{"d":3548,"v":0.35},{"d":3551,"v":-0.67},{"d":3554,"v":0.71},{"d":3557,"v":-0.30},{"d":3560,"v":0.25},{"d":3563,"v":-0.28},{"d":3566,"v":0.30},{"d":3569,"v":-0.20},{"d":3572,"v":0.15},{"d":3575,"v":-0.12},{"d":3578,"v":0.16},{"d":3581,"v":-0.14},{"d":3584,"v":0.10},{"d":3587,"v":-0.15},{"d":3590,"v":0.12},{"d":3593,"v":-0.10},{"d":3596,"v":0.14},{"d":3599,"v":-0.12},{"d":3602,"v":0.44},{"d":3605,"v":-0.40},{"d":3608,"v":0.30},{"d":3611,"v":-0.22},{"d":3614,"v":0.20},{"d":3617,"v":-0.16},{"d":3620,"v":0.22},{"d":3623,"v":-0.18},{"d":3626,"v":0.24},{"d":3629,"v":-0.20},{"d":3632,"v":0.15},{"d":3635,"v":-0.22},{"d":3638,"v":0.25},{"d":3641,"v":-0.30},{"d":3644,"v":0.35},{"d":3647,"v":-0.87},{"d":3650,"v":0.88},{"d":3653,"v":-0.40},{"d":3656,"v":0.38},{"d":3659,"v":-0.35},{"d":3662,"v":0.40},{"d":3665,"v":-0.30},{"d":3668,"v":0.25},{"d":3671,"v":-0.22},{"d":3674,"v":0.28},{"d":3677,"v":-0.25},{"d":3680,"v":0.20},{"d":3683,"v":-0.24},{"d":3686,"v":0.22},{"d":3689,"v":-0.18},{"d":3692,"v":0.26},{"d":3695,"v":-0.20},{"d":3698,"v":0.30},{"d":3701,"v":-0.35},{"d":3704,"v":0.32},{"d":3707,"v":-0.28},{"d":3710,"v":0.25},{"d":3713,"v":-0.22},{"d":3716,"v":0.28},{"d":3719,"v":-0.24},{"d":3722,"v":0.20},{"d":3725,"v":-0.26},{"d":3728,"v":0.30},{"d":3731,"v":-0.57},{"d":3734,"v":0.58},{"d":3737,"v":-0.25},{"d":3740,"v":0.22},{"d":3743,"v":-0.20},{"d":3746,"v":0.24},{"d":3749,"v":-0.18},{"d":3752,"v":0.20},{"d":3755,"v":-0.15},{"d":3758,"v":0.18},{"d":3761,"v":-0.20},{"d":3764,"v":0.22},{"d":3767,"v":-0.30},{"d":3770,"v":0.45},{"d":3773,"v":-0.50},{"d":3776,"v":0.49},{"d":3779,"v":-0.40},{"d":3782,"v":0.45},{"d":3785,"v":-0.38},{"d":3788,"v":0.42},{"d":3791,"v":-0.30},{"d":3794,"v":0.20},{"d":3797,"v":-0.25},{"d":3800,"v":0.28},{"d":3803,"v":-0.22},{"d":3806,"v":0.18},{"d":3809,"v":-0.25},{"d":3812,"v":0.20},{"d":3815,"v":-0.15},{"d":3818,"v":0.22},{"d":3821,"v":-0.18},{"d":3824,"v":0.25},{"d":3827,"v":-0.28},{"d":3830,"v":0.40},{"d":3833,"v":-0.55},{"d":3836,"v":0.60},{"d":3839,"v":-0.50},{"d":3842,"v":0.65},{"d":3845,"v":-0.85},{"d":3848,"v":0.87},{"d":3851,"v":-0.70},{"d":3854,"v":0.55},{"d":3857,"v":-0.60},{"d":3860,"v":0.50},{"d":3863,"v":-0.45},{"d":3866,"v":0.42},{"d":3869,"v":-0.50},{"d":3872,"v":0.55},{"d":3875,"v":-0.40},{"d":3878,"v":0.48},{"d":3881,"v":-0.90},{"d":3884,"v":0.83},{"d":3887,"v":-0.50},{"d":3890,"v":0.45},{"d":3893,"v":-0.55},{"d":3896,"v":0.50},{"d":3899,"v":-0.42},{"d":3902,"v":0.48},{"d":3905,"v":-0.52},{"d":3908,"v":0.45},{"d":3911,"v":-0.40},{"d":3914,"v":0.52},{"d":3917,"v":-0.68},{"d":3920,"v":0.68},{"d":3923,"v":-0.55},{"d":3926,"v":0.50},{"d":3929,"v":-0.60},{"d":3932,"v":0.52},{"d":3935,"v":-0.48},{"d":3938,"v":0.55},{"d":3941,"v":-0.50},{"d":3944,"v":0.45},{"d":3947,"v":-0.55},{"d":3950,"v":0.50},{"d":3953,"v":-0.45},{"d":3956,"v":0.52},{"d":3959,"v":-0.48},{"d":3962,"v":0.42},{"d":3965,"v":-0.86},{"d":3968,"v":0.52},{"d":3971,"v":-0.20},{"d":3974,"v":0.12},{"d":3977,"v":-0.10},{"d":3980,"v":0.08},{"d":3983,"v":-0.12},{"d":3986,"v":0.10},{"d":3989,"v":-0.15},{"d":3992,"v":0.30},{"d":3995,"v":-0.40},{"d":3998,"v":0.35},{"d":4001,"v":-0.38},{"d":4004,"v":0.30},{"d":4007,"v":-0.42},{"d":4010,"v":0.40},{"d":4013,"v":-0.35},{"d":4016,"v":0.45},{"d":4019,"v":-0.50},{"d":4022,"v":0.72},{"d":4025,"v":-0.72},{"d":4028,"v":0.45},{"d":4031,"v":-0.55},{"d":4034,"v":0.81},{"d":4037,"v":-0.75},{"d":4040,"v":0.55},{"d":4043,"v":-0.50},{"d":4046,"v":0.45},{"d":4049,"v":-0.48},{"d":4052,"v":0.55},{"d":4055,"v":-0.45},{"d":4058,"v":0.50},{"d":4061,"v":-0.55},{"d":4064,"v":0.40},{"d":4067,"v":-0.42},{"d":4070,"v":0.50},{"d":4073,"v":-0.45},{"d":4076,"v":0.38},{"d":4079,"v":-0.40},{"d":4082,"v":0.45},{"d":4085,"v":-0.35},{"d":4088,"v":0.42},{"d":4091,"v":-0.40},{"d":4094,"v":0.50},{"d":4097,"v":-0.66},{"d":4100,"v":0.67},{"d":4103,"v":-0.15},{"d":4106,"v":0.12},{"d":4109,"v":-0.10},{"d":4112,"v":0.14},{"d":4115,"v":-0.12},{"d":4118,"v":0.18},{"d":4121,"v":-0.25},{"d":4124,"v":0.30},{"d":4127,"v":-0.40},{"d":4130,"v":0.38},{"d":4133,"v":-0.35},{"d":4136,"v":0.45},{"d":4139,"v":-0.40},{"d":4142,"v":0.35},{"d":4145,"v":-0.42},{"d":4148,"v":0.48},{"d":4151,"v":-0.38},{"d":4154,"v":0.40},{"d":4157,"v":-0.45},{"d":4160,"v":0.42},{"d":4163,"v":-0.35},{"d":4166,"v":0.38},{"d":4169,"v":-0.45},{"d":4172,"v":0.40},{"d":4175,"v":-0.50},{"d":4178,"v":0.50},{"d":4181,"v":-0.48},{"d":4184,"v":0.30},{"d":4187,"v":-0.25},{"d":4190,"v":0.28},{"d":4193,"v":-0.32},{"d":4196,"v":0.25},{"d":4199,"v":-0.28},{"d":4202,"v":0.30},{"d":4205,"v":-0.25},{"d":4208,"v":0.32},{"d":4211,"v":-0.30},{"d":4214,"v":0.28},{"d":4217,"v":-0.35},{"d":4220,"v":0.40},{"d":4223,"v":-0.76},{"d":4226,"v":0.67},{"d":4229,"v":-0.25},{"d":4232,"v":0.15},{"d":4235,"v":-0.12},{"d":4238,"v":0.20},{"d":4241,"v":-0.18},{"d":4244,"v":0.25},{"d":4247,"v":-0.22},{"d":4250,"v":0.28},{"d":4253,"v":-0.25},{"d":4256,"v":0.30},{"d":4259,"v":-0.26},{"d":4262,"v":0.32},{"d":4265,"v":-0.28},{"d":4268,"v":0.35},{"d":4271,"v":-0.30},{"d":4274,"v":0.25},{"d":4277,"v":-0.30},{"d":4280,"v":0.22},{"d":4283,"v":-0.20},{"d":4286,"v":0.24},{"d":4289,"v":-0.28},{"d":4292,"v":0.30},{"d":4295,"v":-0.26},{"d":4298,"v":0.28},{"d":4301,"v":-0.32},{"d":4304,"v":0.30},{"d":4307,"v":-0.25},{"d":4310,"v":0.28},{"d":4313,"v":-0.22},{"d":4316,"v":0.25},{"d":4319,"v":-0.30},{"d":4322,"v":0.35},{"d":4325,"v":-0.30},{"d":4328,"v":0.28},{"d":4331,"v":-0.35},{"d":4334,"v":0.32},{"d":4337,"v":-0.28},{"d":4340,"v":0.30},{"d":4343,"v":-0.25},{"d":4346,"v":0.30},{"d":4349,"v":-0.35},{"d":4352,"v":0.40},{"d":4355,"v":-0.45},{"d":4358,"v":0.60},{"d":4361,"v":-0.80},{"d":4364,"v":0.84},{"d":4367,"v":-0.50},{"d":4370,"v":0.40},{"d":4373,"v":-0.30},{"d":4376,"v":0.25},{"d":4379,"v":-0.22},{"d":4382,"v":0.20},{"d":4385,"v":-0.25},{"d":4388,"v":0.18},{"d":4391,"v":-0.15},{"d":4394,"v":0.22},{"d":4397,"v":-0.20},{"d":4400,"v":0.18},{"d":4403,"v":-0.25},{"d":4406,"v":0.30},{"d":4409,"v":-0.45},{"d":4412,"v":0.50},{"d":4415,"v":-0.70},{"d":4418,"v":0.92},{"d":4421,"v":-0.90},{"d":4424,"v":0.55},{"d":4427,"v":-0.45},{"d":4430,"v":0.40},{"d":4433,"v":-0.35},{"d":4436,"v":0.38},{"d":4439,"v":-0.30},{"d":4442,"v":0.32},{"d":4445,"v":-0.28},{"d":4448,"v":0.30},{"d":4451,"v":-0.25},{"d":4454,"v":0.20}
],
"r2": [
{"d":3497.1,"v":0.15},{"d":3498.7,"v":2.0},{"d":3501.0,"v":2.55},{"d":3504.1,"v":0.83},{"d":3508.9,"v":-1.25},{"d":3513.7,"v":-1.08},{"d":3516.8,"v":-0.69},{"d":3521.0,"v":0.86},{"d":3524.8,"v":-0.34},{"d":3527.9,"v":-0.79},{"d":3531.1,"v":0.77},{"d":3535.9,"v":-0.95},{"d":3539.0,"v":-0.05},{"d":3542.2,"v":-0.44},{"d":3545.4,"v":0.83},{"d":3547.6,"v":-0.01},{"d":3550.2,"v":-0.99},{"d":3553.3,"v":0.73},{"d":3557.1,"v":-0.69},{"d":3561.3,"v":-0.50},{"d":3563.5,"v":1.68},{"d":3566.7,"v":1.48},{"d":3569.8,"v":-0.56},{"d":3575.6,"v":-0.66},{"d":3581.0,"v":0.12},{"d":3585.7,"v":-0.92},{"d":3591.4,"v":-0.82},{"d":3596.8,"v":0.17},{"d":3601.0,"v":-1.15},{"d":3605.7,"v":-0.08},{"d":3610.5,"v":-1.21},{"d":3616.8,"v":-1.18},{"d":3622.5,"v":-1.28},{"d":3627.9,"v":-0.99},{"d":3632.1,"v":-1.21},{"d":3635.2,"v":-0.60},{"d":3639.0,"v":-1.08},{"d":3643.8,"v":-1.12},{"d":3647.0,"v":0.05},{"d":3650.2,"v":0.25},{"d":3652.4,"v":0.41},{"d":3654.9,"v":0.05},{"d":3659.7,"v":-1.34},{"d":3662.9,"v":0.38},{"d":3664.4,"v":1.06},{"d":3669.2,"v":0.38},{"d":3673.9,"v":-0.86},{"d":3677.1,"v":-0.99},{"d":3681.0,"v":-1.31},{"d":3685.1,"v":-0.34},{"d":3689.8,"v":-1.15},{"d":3696.2,"v":-0.89},{"d":3699.4,"v":-0.76},{"d":3704.1,"v":-0.01},{"d":3709.5,"v":-0.82},{"d":3712.7,"v":-0.14},{"d":3715.9,"v":0.99},{"d":3720.0,"v":-0.73},{"d":3724.1,"v":-0.79},{"d":3727.9,"v":-0.82},{"d":3732.7,"v":0.44},{"d":3735.9,"v":-1.08},{"d":3740.6,"v":-0.73},{"d":3745.4,"v":-0.47},{"d":3750.2,"v":-0.69},{"d":3756.5,"v":-1.15},{"d":3762.9,"v":-0.89},{"d":3770.2,"v":-0.86},{"d":3774.0,"v":0.57},{"d":3777.1,"v":0.67},{"d":3781.3,"v":-0.14},{"d":3784.4,"v":0.57},{"d":3788.3,"v":0.70},{"d":3792.1,"v":-0.08},{"d":3796.2,"v":-0.89},{"d":3802.5,"v":-0.95},{"d":3807.9,"v":-1.12},{"d":3812.1,"v":0.31},{"d":3815.2,"v":0.64},{"d":3819.4,"v":-0.92},{"d":3824.8,"v":-0.66},{"d":3830.2,"v":-0.69},{"d":3837.5,"v":-1.28},{"d":3841.6,"v":-0.14},{"d":3843.8,"v":0.73},{"d":3848.6,"v":-0.27},{"d":3851.7,"v":-0.56},{"d":3856.5,"v":0.25},{"d":3859.7,"v":-1.18},{"d":3862.9,"v":-0.66},{"d":3867.6,"v":0.96},{"d":3870.8,"v":0.99},{"d":3874.6,"v":-0.89},{"d":3879.7,"v":-1.25},{"d":3883.5,"v":-0.50},{"d":3886.0,"v":0.70},{"d":3889.2,"v":-1.21},{"d":3893.7,"v":-0.92},{"d":3897.8,"v":-0.60},{"d":3901.0,"v":1.74},{"d":3905.1,"v":0.05},{"d":3908.3,"v":1.71},{"d":3912.1,"v":0.70},{"d":3916.8,"v":-1.08},{"d":3921.6,"v":0.05},{"d":3924.8,"v":1.55},{"d":3927.3,"v":2.12},{"d":3930.5,"v":-1.15},{"d":3934.3,"v":-0.53},{"d":3939.0,"v":-0.99},{"d":3943.2,"v":0.60},{"d":3946.9,"v":-0.86},{"d":3952.7,"v":1.12},{"d":3955.9,"v":0.05},{"d":3958.1,"v":-1.25},{"d":3961.3,"v":0.12},{"d":3964.4,"v":0.86},{"d":3967.6,"v":0.12},{"d":3971.7,"v":1.48},{"d":3975.6,"v":-0.79},{"d":3981.0,"v":-1.02},{"d":3987.3,"v":-0.99},{"d":3993.0,"v":-1.28},{"d":3995.2,"v":1.25},{"d":3999.4,"v":0.64},{"d":4003.2,"v":1.25},{"d":4007.0,"v":-0.69},{"d":4010.1,"v":-0.86},{"d":4013.3,"v":-1.21},{"d":4017.4,"v":1.09},{"d":4020.6,"v":1.32},{"d":4024.7,"v":-1.47},{"d":4027.9,"v":1.16},{"d":4031.7,"v":-0.76},{"d":4035.5,"v":1.25},{"d":4039.6,"v":0.38},{"d":4042.8,"v":0.47},{"d":4047.5,"v":-1.25},{"d":4052.3,"v":-1.08},{"d":4056.4,"v":-0.34},{"d":4059.6,"v":0.25},{"d":4064.0,"v":0.96},{"d":4067.2,"v":-1.41},{"d":4072.3,"v":-1.18},{"d":4076.1,"v":0.05},{"d":4081.8,"v":1.14},{"d":4084.9,"v":-0.95},{"d":4088.7,"v":-0.89},{"d":4095.1,"v":-1.34},{"d":4099.8,"v":1.66},{"d":4104.0,"v":-1.18},{"d":4107.8,"v":-1.18},{"d":4111.9,"v":-0.99},{"d":4117.3,"v":-1.34},{"d":4123.0,"v":-0.99},{"d":4128.4,"v":-1.44},{"d":4130.0,"v":-1.67},{"d":4131.5,"v":0.05},{"d":4133.8,"v":0.67},{"d":4137.9,"v":0.05},{"d":4142.0,"v":-0.82},{"d":4145.2,"v":0.60},{"d":4149.6,"v":0.25},{"d":4154.7,"v":-0.14},{"d":4160.1,"v":0.57},{"d":4163.2,"v":-0.14},{"d":4165.5,"v":1.12},{"d":4168.6,"v":-1.73},{"d":4174.4,"v":-1.41},{"d":4177.5,"v":-1.73},{"d":4181.3,"v":0.51},{"d":4186.4,"v":-1.41},{"d":4191.8,"v":-1.67},{"d":4196.5,"v":0.70},{"d":4200.3,"v":0.38},{"d":4204.4,"v":-0.08},{"d":4207.6,"v":1.48},{"d":4212.4,"v":-1.18},{"d":4218.7,"v":-1.77},{"d":4221.9,"v":-0.34},{"d":4223.5,"v":-0.89},{"d":4225.7,"v":1.48},{"d":4228.8,"v":1.71},{"d":4233.0,"v":0.70},{"d":4237.7,"v":1.22},{"d":4242.5,"v":0.77},{"d":4247.2,"v":1.25},{"d":4252.0,"v":0.67},{"d":4256.7,"v":0.90},{"d":4260.5,"v":0.60},{"d":4265.6,"v":0.90},{"d":4271.0,"v":1.25},{"d":4274.2,"v":0.51},{"d":4279.6,"v":1.55},{"d":4285.3,"v":0.96},{"d":4290.0,"v":1.35},{"d":4293.2,"v":1.03},{"d":4297.9,"v":1.68},{"d":4304.3,"v":0.67},{"d":4310.0,"v":1.64},{"d":4313.8,"v":0.60},{"d":4320.1,"v":1.45},{"d":4323.9,"v":0.54},{"d":4328.1,"v":1.16},{"d":4332.8,"v":1.77},{"d":4336.0,"v":0.73},{"d":4343.0,"v":1.97},{"d":4345.5,"v":0.47},{"d":4349.3,"v":1.45},{"d":4353.4,"v":0.96},{"d":4357.5,"v":1.45},{"d":4360.7,"v":0.31},{"d":4364.5,"v":0.67},{"d":4369.3,"v":1.25},{"d":4373.4,"v":0.93},{"d":4378.8,"v":1.42},{"d":4385.1,"v":1.87},{"d":4390.5,"v":0.25},{"d":4394.6,"v":1.42},{"d":4399.4,"v":1.87},{"d":4403.2,"v":-0.14},{"d":4405.7,"v":1.55},{"d":4412.0,"v":0.34},{"d":4416.8,"v":1.16},{"d":4420.0,"v":0.08},{"d":4423.1,"v":-0.31},{"d":4426.3,"v":1.51},{"d":4431.1,"v":-0.24},{"d":4435.8,"v":0.41},{"d":4439.9,"v":-0.14},{"d":4443.7,"v":-0.99},{"d":4446.9,"v":-0.44},{"d":4450.1,"v":-0.99},{"d":4453.2,"v":0.77},{"d":4455.8,"v":-0.31}
],
"imf3": [
{"d":3498.8,"v":-0.25},{"d":3501.9,"v":0.07},{"d":3505.0,"v":0.27},{"d":3508.8,"v":-0.24},{"d":3512.5,"v":0.22},{"d":3516.3,"v":-0.27},{"d":3520.6,"v":0.27},{"d":3525.0,"v":-0.28},{"d":3526.9,"v":0.35},{"d":3528.8,"v":-0.48},{"d":3530.6,"v":0.47},{"d":3533.1,"v":-0.35},{"d":3536.3,"v":0.29},{"d":3539.4,"v":-0.30},{"d":3542.5,"v":0.27},{"d":3546.3,"v":-0.31},{"d":3550.0,"v":0.29},{"d":3553.8,"v":-0.18},{"d":3558.1,"v":0.19},{"d":3561.3,"v":-0.24},{"d":3563.8,"v":0.26},{"d":3567.5,"v":-0.22},{"d":3571.9,"v":0.08},{"d":3575.0,"v":-0.06},{"d":3578.8,"v":0.07},{"d":3583.1,"v":-0.09},{"d":3587.5,"v":0.06},{"d":3592.5,"v":-0.16},{"d":3596.9,"v":0.29},{"d":3601.3,"v":-0.39},{"d":3605.0,"v":0.35},{"d":3608.8,"v":-0.18},{"d":3612.5,"v":0.01},{"d":3616.3,"v":-0.02},{"d":3621.3,"v":0.08},{"d":3625.0,"v":0.20},{"d":3630.0,"v":-0.24},{"d":3633.8,"v":0.23},{"d":3637.5,"v":-0.19},{"d":3640.6,"v":0.19},{"d":3643.8,"v":-0.18},{"d":3647.5,"v":0.22},{"d":3650.0,"v":-0.31},{"d":3652.5,"v":0.43},{"d":3658.8,"v":-0.65},{"d":3661.9,"v":0.56},{"d":3666.3,"v":-0.08},{"d":3670.6,"v":-0.12},{"d":3673.8,"v":0.13},{"d":3680.0,"v":-0.13},{"d":3685.0,"v":0.23},{"d":3688.8,"v":-0.22},{"d":3692.5,"v":0.17},{"d":3697.5,"v":-0.09},{"d":3701.9,"v":0.10},{"d":3706.3,"v":-0.08},{"d":3711.3,"v":0.08},{"d":3715.0,"v":-0.18},{"d":3718.8,"v":0.20},{"d":3722.5,"v":-0.18},{"d":3725.6,"v":0.22},{"d":3730.0,"v":-0.35},{"d":3734.4,"v":0.40},{"d":3738.1,"v":-0.40},{"d":3742.5,"v":-0.19},{"d":3746.3,"v":0.16},{"d":3750.0,"v":-0.16},{"d":3753.8,"v":0.17},{"d":3758.1,"v":-0.13},{"d":3762.5,"v":0.11},{"d":3767.5,"v":-0.16},{"d":3771.9,"v":0.16},{"d":3775.0,"v":-0.22},{"d":3778.1,"v":0.25},{"d":3781.3,"v":-0.23},{"d":3785.0,"v":0.14},{"d":3789.4,"v":-0.08},{"d":3793.8,"v":-0.15},{"d":3798.8,"v":0.07},{"d":3802.5,"v":0.23},{"d":3805.0,"v":-0.25},{"d":3808.1,"v":0.27},{"d":3811.3,"v":-0.08},{"d":3814.4,"v":0.19},{"d":3818.8,"v":-0.13},{"d":3823.8,"v":0.10},{"d":3827.5,"v":-0.12},{"d":3831.9,"v":0.06},{"d":3835.0,"v":-0.28},{"d":3839.4,"v":0.33},{"d":3842.5,"v":-0.20},{"d":3846.9,"v":-0.34},{"d":3850.0,"v":0.34},{"d":3853.8,"v":-0.37},{"d":3857.5,"v":0.46},{"d":3859.4,"v":-0.46},{"d":3862.5,"v":0.41},{"d":3864.4,"v":-0.28},{"d":3867.5,"v":0.22},{"d":3871.3,"v":-0.21},{"d":3873.8,"v":0.19},{"d":3877.5,"v":-0.09},{"d":3880.0,"v":0.16},{"d":3883.1,"v":-0.28},{"d":3886.3,"v":0.35},{"d":3889.4,"v":-0.35},{"d":3892.5,"v":0.40},{"d":3895.6,"v":-0.40},{"d":3898.8,"v":0.35},{"d":3901.9,"v":-0.46},{"d":3905.0,"v":0.32},{"d":3908.1,"v":0.78},{"d":3911.3,"v":-0.08},{"d":3916.3,"v":-0.97},{"d":3920.6,"v":0.29},{"d":3923.8,"v":-0.08},{"d":3926.9,"v":0.42},{"d":3930.0,"v":-0.84},{"d":3933.1,"v":0.51},{"d":3936.3,"v":-0.27},{"d":3939.4,"v":0.55},{"d":3942.5,"v":-0.34},{"d":3946.3,"v":-0.75},{"d":3950.0,"v":0.73},{"d":3953.8,"v":-0.50},{"d":3957.5,"v":0.39},{"d":3961.3,"v":-0.36},{"d":3965.0,"v":0.39},{"d":3967.5,"v":-0.54},{"d":3971.3,"v":0.61},{"d":3975.0,"v":-0.57},{"d":3978.8,"v":0.38},{"d":3981.9,"v":-0.18},{"d":3985.0,"v":0.10},{"d":3988.1,"v":-0.12},{"d":3991.3,"v":0.19},{"d":3995.6,"v":-0.35},{"d":3998.8,"v":0.48},{"d":4001.9,"v":-0.51},{"d":4005.0,"v":0.45},{"d":4008.8,"v":-0.41},{"d":4011.3,"v":0.36},{"d":4015.0,"v":-0.35},{"d":4018.8,"v":0.48},{"d":4021.3,"v":0.63},{"d":4025.0,"v":-0.93},{"d":4028.8,"v":0.99},{"d":4032.5,"v":-0.94},{"d":4035.6,"v":0.80},{"d":4040.0,"v":-0.57},{"d":4043.8,"v":0.39},{"d":4047.5,"v":-0.31},{"d":4051.3,"v":0.26},{"d":4055.0,"v":-0.28},{"d":4058.8,"v":0.30},{"d":4062.5,"v":-0.32},{"d":4066.3,"v":0.32},{"d":4070.0,"v":-0.38},{"d":4073.8,"v":0.23},{"d":4077.5,"v":-0.28},{"d":4081.3,"v":0.33},{"d":4085.0,"v":-0.36},{"d":4088.8,"v":0.27},{"d":4092.5,"v":-0.22},{"d":4096.3,"v":0.23},{"d":4100.0,"v":-0.13},{"d":4103.8,"v":0.14},{"d":4107.5,"v":-0.11},{"d":4111.3,"v":0.07},{"d":4115.0,"v":-0.11},{"d":4118.8,"v":0.03},{"d":4122.5,"v":-0.06},{"d":4125.0,"v":0.16},{"d":4128.8,"v":-0.27},{"d":4132.5,"v":0.25},{"d":4136.3,"v":-0.21},{"d":4140.0,"v":0.27},{"d":4142.5,"v":-0.43},{"d":4145.6,"v":0.50},{"d":4150.0,"v":-0.28},{"d":4152.5,"v":0.39},{"d":4156.3,"v":-0.50},{"d":4160.0,"v":0.44},{"d":4163.8,"v":-0.31},{"d":4167.5,"v":0.22},{"d":4171.3,"v":-0.22},{"d":4173.8,"v":0.49},{"d":4176.3,"v":0.01},{"d":4178.8,"v":-0.56},{"d":4181.3,"v":0.54},{"d":4185.0,"v":-0.16},{"d":4189.4,"v":0.06},{"d":4192.5,"v":-0.08},{"d":4196.3,"v":0.34},{"d":4200.0,"v":-0.38},{"d":4203.8,"v":0.39},{"d":4206.9,"v":-0.38},{"d":4210.0,"v":0.36},{"d":4213.8,"v":-0.28},{"d":4216.3,"v":0.23},{"d":4220.0,"v":-0.37},{"d":4222.5,"v":0.39},{"d":4226.3,"v":-0.24},{"d":4230.0,"v":0.25},{"d":4233.8,"v":-0.28},{"d":4236.3,"v":0.30},{"d":4240.0,"v":-0.31},{"d":4243.8,"v":0.25},{"d":4247.5,"v":-0.27},{"d":4251.3,"v":0.16},{"d":4255.0,"v":-0.11},{"d":4258.8,"v":0.10},{"d":4262.5,"v":-0.06},{"d":4266.3,"v":0.16},{"d":4268.8,"v":-0.33},{"d":4271.3,"v":0.32},{"d":4275.0,"v":-0.35},{"d":4278.8,"v":0.34},{"d":4282.5,"v":-0.22},{"d":4286.3,"v":0.11},{"d":4290.0,"v":-0.12},{"d":4293.8,"v":0.11},{"d":4297.5,"v":-0.19},{"d":4301.3,"v":0.13},{"d":4305.0,"v":-0.13},{"d":4308.8,"v":0.38},{"d":4312.5,"v":-0.35},{"d":4316.3,"v":0.32},{"d":4320.0,"v":-0.30},{"d":4323.8,"v":0.29},{"d":4327.5,"v":-0.34},{"d":4331.3,"v":0.33},{"d":4335.0,"v":-0.31},{"d":4338.8,"v":0.30},{"d":4342.5,"v":-0.35},{"d":4346.3,"v":0.39},{"d":4350.0,"v":-0.25},{"d":4353.8,"v":0.27},{"d":4357.5,"v":-0.24},{"d":4361.3,"v":0.25},{"d":4365.0,"v":-0.25},{"d":4368.8,"v":0.17},{"d":4372.5,"v":-0.21},{"d":4376.3,"v":0.17},{"d":4380.0,"v":-0.16},{"d":4383.8,"v":0.16},{"d":4387.5,"v":-0.43},{"d":4390.6,"v":0.48},{"d":4393.8,"v":-0.56},{"d":4396.3,"v":0.55},{"d":4400.0,"v":-0.62},{"d":4402.5,"v":0.63},{"d":4406.3,"v":-0.41},{"d":4410.0,"v":0.33},{"d":4413.8,"v":-0.34},{"d":4417.5,"v":-0.53},{"d":4420.6,"v":0.57},{"d":4423.8,"v":-0.49},{"d":4426.9,"v":0.33},{"d":4430.0,"v":-0.28},{"d":4433.1,"v":0.25},{"d":4436.3,"v":-0.22},{"d":4440.0,"v":0.20},{"d":4443.8,"v":-0.21},{"d":4447.5,"v":0.26},{"d":4451.3,"v":-0.05},{"d":4455.0,"v":0.03}
],
"r3": [
{"d":3496.9,"v":0.14},{"d":3497.5,"v":1.96},{"d":3500.0,"v":2.76},{"d":3505.0,"v":0.14},{"d":3510.0,"v":-1.31},{"d":3514.4,"v":-0.87},{"d":3520.6,"v":0.59},{"d":3525.6,"v":-0.73},{"d":3530.0,"v":0.35},{"d":3533.8,"v":-0.94},{"d":3539.4,"v":-0.31},{"d":3545.6,"v":0.76},{"d":3548.8,"v":-0.73},{"d":3553.1,"v":0.49},{"d":3558.1,"v":-0.66},{"d":3564.4,"v":1.73},{"d":3570.6,"v":-0.70},{"d":3580.0,"v":0.06},{"d":3585.0,"v":-0.98},{"d":3591.3,"v":-0.80},{"d":3596.3,"v":-0.03},{"d":3601.9,"v":-0.77},{"d":3606.3,"v":-0.35},{"d":3610.0,"v":-1.26},{"d":3620.6,"v":-1.15},{"d":3635.0,"v":-0.73},{"d":3641.3,"v":-1.15},{"d":3650.0,"v":0.41},{"d":3656.3,"v":-0.87},{"d":3664.4,"v":0.73},{"d":3672.5,"v":-0.87},{"d":3680.0,"v":-1.24},{"d":3685.0,"v":-0.56},{"d":3692.5,"v":-1.05},{"d":3703.1,"v":-0.06},{"d":3708.8,"v":-0.91},{"d":3715.6,"v":0.77},{"d":3721.9,"v":-0.84},{"d":3731.9,"v":0.06},{"d":3736.3,"v":-1.08},{"d":3742.5,"v":-0.63},{"d":3751.9,"v":-0.80},{"d":3756.9,"v":-1.13},{"d":3767.5,"v":-0.94},{"d":3775.0,"v":0.73},{"d":3780.0,"v":0.07},{"d":3786.3,"v":0.77},{"d":3792.5,"v":0.0},{"d":3797.5,"v":-1.01},{"d":3805.0,"v":-0.66},{"d":3814.4,"v":0.69},{"d":3822.5,"v":-0.84},{"d":3828.8,"v":-0.66},{"d":3835.0,"v":-1.31},{"d":3842.5,"v":0.48},{"d":3853.8,"v":-0.35},{"d":3860.0,"v":-1.08},{"d":3867.5,"v":1.08},{"d":3878.8,"v":-1.15},{"d":3883.8,"v":0.41},{"d":3889.4,"v":-1.27},{"d":3897.5,"v":-0.38},{"d":3900.0,"v":1.80},{"d":3906.3,"v":1.05},{"d":3914.4,"v":-0.15},{"d":3925.6,"v":1.76},{"d":3931.3,"v":-1.13},{"d":3936.3,"v":-0.38},{"d":3941.3,"v":0.10},{"d":3945.6,"v":-0.17},{"d":3951.9,"v":0.42},{"d":3958.1,"v":-0.84},{"d":3964.4,"v":0.49},{"d":3970.6,"v":0.94},{"d":3976.9,"v":-1.08},{"d":3986.3,"v":-0.98},{"d":3991.3,"v":-1.27},{"d":4000.0,"v":1.10},{"d":4011.3,"v":-1.05},{"d":4018.8,"v":1.54},{"d":4025.0,"v":-0.73},{"d":4031.3,"v":0.21},{"d":4039.4,"v":0.84},{"d":4050.0,"v":-1.13},{"d":4061.3,"v":0.77},{"d":4070.6,"v":-1.43},{"d":4080.0,"v":1.12},{"d":4089.4,"v":-1.22},{"d":4093.8,"v":-1.41},{"d":4098.8,"v":1.68},{"d":4106.3,"v":-1.29},{"d":4111.3,"v":-1.01},{"d":4120.6,"v":-1.26},{"d":4128.8,"v":-1.52},{"d":4133.1,"v":0.76},{"d":4141.3,"v":-0.43},{"d":4147.5,"v":0.17},{"d":4158.1,"v":0.31},{"d":4166.3,"v":1.10},{"d":4173.8,"v":-1.85},{"d":4183.1,"v":0.14},{"d":4191.3,"v":-1.61},{"d":4198.8,"v":0.73},{"d":4203.8,"v":0.28},{"d":4208.8,"v":1.27},{"d":4215.0,"v":-1.90},{"d":4222.5,"v":-0.59},{"d":4225.0,"v":0.0},{"d":4228.8,"v":1.71},{"d":4236.3,"v":1.12},{"d":4245.6,"v":0.94},{"d":4251.9,"v":1.05},{"d":4261.3,"v":0.64},{"d":4270.6,"v":1.05},{"d":4283.1,"v":1.22},{"d":4297.5,"v":1.54},{"d":4305.0,"v":0.84},{"d":4314.4,"v":1.26},{"d":4325.0,"v":0.77},{"d":4333.1,"v":1.47},{"d":4342.5,"v":2.03},{"d":4347.5,"v":0.84},{"d":4355.0,"v":1.38},{"d":4362.5,"v":0.52},{"d":4372.5,"v":1.12},{"d":4385.0,"v":1.68},{"d":4391.3,"v":0.66},{"d":4397.5,"v":1.75},{"d":4403.8,"v":0.45},{"d":4408.1,"v":1.40},{"d":4417.5,"v":0.59},{"d":4423.8,"v":0.20},{"d":4426.9,"v":1.45},{"d":4433.1,"v":-0.07},{"d":4437.5,"v":0.28},{"d":4442.5,"v":-0.59},{"d":4448.8,"v":-0.78},{"d":4451.9,"v":-0.29},{"d":4455.0,"v":0.77}
]
},
"hconcat": [
{
  "width": 244, "height": 1103,
  "title": {"text": "0. 强制等距重采样", "color": "#1a1a1a"},
  "layer": [
    {"data": {"name": "gr"}, "mark": {"type": "line", "strokeWidth": 1.6, "clip": true},
     "encoding": {
       "x": {"field": "v", "type": "quantitative", "scale": {"domain": [22.5, 196], "nice": false, "zero": false}, "axis": {"orient": "top", "values": [50, 100, 150], "format": "d", "grid": true}},
       "y": {"field": "d", "type": "quantitative", "scale": {"domain": [3450, 4500], "reverse": true, "nice": false, "zero": false}, "axis": {"values": [3600, 3800, 4000, 4200, 4400], "format": "d", "grid": true, "labelPadding": 15}},
       "order": {"field": "d", "type": "quantitative"},
       "color": {"datum": "Eq GR (Pchip等距)", "type": "nominal", "scale": {"domain": ["Raw GR (不等距)", "Eq GR (Pchip等距)"], "range": ["#bdbdbd", "#000000"]}, "legend": {"title": null, "orient": "bottom-right"}}
     }}
  ]
},
{
  "width": 244, "height": 1103,
  "title": {"text": ["提取: IMF 1", "(频率层 1)"], "color": "#4e9a3a"},
  "layer": [
    {"data": {"name": "imf1"}, "mark": {"type": "line", "strokeWidth": 2.2, "color": "#529e3e", "clip": true},
     "encoding": {
       "x": {"field": "v", "type": "quantitative", "scale": {"domain": [-0.82, 0.82], "nice": false, "zero": false}, "axis": {"orient": "top", "values": [-0.5, 0, 0.5], "format": ".1f", "grid": true}},
       "y": {"field": "d", "type": "quantitative", "scale": {"domain": [3450, 4500], "reverse": true, "nice": false, "zero": false}, "axis": {"values": [3600, 3800, 4000, 4200, 4400], "labels": false, "grid": true}},
       "order": {"field": "d", "type": "quantitative"}
     }},
    {"mark": {"type": "rule", "color": "#9a9a9a", "strokeDash": [7, 4], "strokeWidth": 1.6, "opacity": 0.75}, "encoding": {"x": {"datum": 0}}}
  ]
},
{
  "width": 244, "height": 1103,
  "title": {"text": ["剩余: 剔除 IMF1 后", "(原始曲线变得更平缓)"], "color": "#a83a30"},
  "layer": [
    {"data": {"name": "r1"}, "mark": {"type": "line", "strokeWidth": 2, "color": "#8c564b", "clip": true},
     "encoding": {
       "x": {"field": "v", "type": "quantitative", "scale": {"domain": [-2.05, 3.14], "nice": false, "zero": false}, "axis": {"orient": "top", "values": [-2, 0, 2], "format": "d", "grid": true}},
       "y": {"field": "d", "type": "quantitative", "scale": {"domain": [3450, 4500], "reverse": true, "nice": false, "zero": false}, "axis": {"values": [3600, 3800, 4000, 4200, 4400], "labels": false, "grid": true}},
       "order": {"field": "d", "type": "quantitative"}
     }}
  ]
},
{
  "width": 244, "height": 1103,
  "title": {"text": ["提取: IMF 2", "(频率层 2)"], "color": "#4e9a3a"},
  "layer": [
    {"data": {"name": "imf2"}, "mark": {"type": "line", "strokeWidth": 1.8, "color": "#529e3e", "clip": true},
     "encoding": {
       "x": {"field": "v", "type": "quantitative", "scale": {"domain": [-1, 1], "nice": false, "zero": false}, "axis": {"orient": "top", "values": [-1, 0, 1], "format": "d", "grid": true}},
       "y": {"field": "d", "type": "quantitative", "scale": {"domain": [3450, 4500], "reverse": true, "nice": false, "zero": false}, "axis": {"values": [3600, 3800, 4000, 4200, 4400], "labels": false, "grid": true}},
       "order": {"field": "d", "type": "quantitative"}
     }},
    {"mark": {"type": "rule", "color": "#9a9a9a", "strokeDash": [7, 4], "strokeWidth": 1.6, "opacity": 0.75}, "encoding": {"x": {"datum": 0}}}
  ]
},
{
  "width": 244, "height": 1103,
  "title": {"text": ["剩余: 剔除 IMF2 后", "(原始曲线变得更平缓)"], "color": "#a83a30"},
  "layer": [
    {"data": {"name": "r2"}, "mark": {"type": "line", "strokeWidth": 2, "color": "#8c564b", "clip": true, "interpolate": "catmull-rom"},
     "encoding": {
       "x": {"field": "v", "type": "quantitative", "scale": {"domain": [-1.99, 2.77], "nice": false, "zero": false}, "axis": {"orient": "top", "values": [0, 2], "format": "d", "grid": true}},
       "y": {"field": "d", "type": "quantitative", "scale": {"domain": [3450, 4500], "reverse": true, "nice": false, "zero": false}, "axis": {"values": [3600, 3800, 4000, 4200, 4400], "labels": false, "grid": true}},
       "order": {"field": "d", "type": "quantitative"}
     }}
  ]
},
{
  "width": 244, "height": 1103,
  "title": {"text": ["提取: IMF 3", "(频率层 3)"], "color": "#4e9a3a"},
  "layer": [
    {"data": {"name": "imf3"}, "mark": {"type": "line", "strokeWidth": 1.5, "color": "#529e3e", "clip": true, "interpolate": "catmull-rom"},
     "encoding": {
       "x": {"field": "v", "type": "quantitative", "scale": {"domain": [-1.06, 1.08], "nice": false, "zero": false}, "axis": {"orient": "top", "values": [-1, 0, 1], "format": "d", "grid": true}},
       "y": {"field": "d", "type": "quantitative", "scale": {"domain": [3450, 4500], "reverse": true, "nice": false, "zero": false}, "axis": {"values": [3600, 3800, 4000, 4200, 4400], "labels": false, "grid": true}},
       "order": {"field": "d", "type": "quantitative"}
     }},
    {"mark": {"type": "rule", "color": "#9a9a9a", "strokeDash": [7, 4], "strokeWidth": 1.6, "opacity": 0.75}, "encoding": {"x": {"datum": 0}}}
  ]
},
{
  "width": 244, "height": 1103,
  "title": {"text": ["剩余: 剔除 IMF3 后", "(原始曲线变得更平缓)"], "color": "#a83a30"},
  "layer": [
    {"data": {"name": "r3"}, "mark": {"type": "line", "strokeWidth": 2, "color": "#8c564b", "clip": true, "interpolate": "catmull-rom"},
     "encoding": {
       "x": {"field": "v", "type": "quantitative", "scale": {"domain": [-2.13, 2.99], "nice": false, "zero": false}, "axis": {"orient": "top", "values": [-2, 0, 2], "format": "d", "grid": true}},
       "y": {"field": "d", "type": "quantitative", "scale": {"domain": [3450, 4500], "reverse": true, "nice": false, "zero": false}, "axis": {"values": [3600, 3800, 4000, 4200, 4400], "labels": false, "grid": true}},
       "order": {"field": "d", "type": "quantitative"}
     }}
  ]
}
]
}
